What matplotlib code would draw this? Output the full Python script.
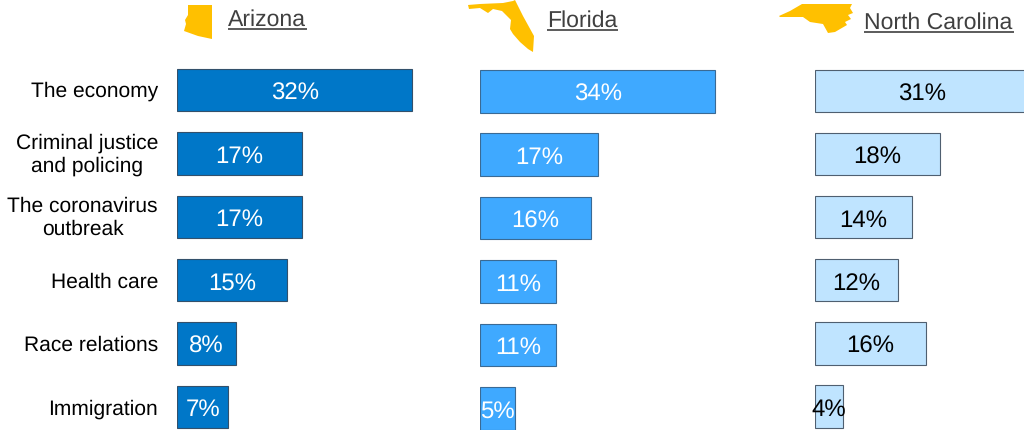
import matplotlib
matplotlib.use("Agg")
import matplotlib.pyplot as plt
from matplotlib.patches import Polygon

plt.rcParams["font.family"] = ["Liberation Sans", "DejaVu Sans"]
plt.rcParams["text.hinting"] = "no_hinting"
plt.rcParams["text.hinting_factor"] = 1

# ---------------- Data ----------------

categories = ["The economy", "Criminal justice\nand policing", "The coronavirus\noutbreak",
              "Health care", "Race relations", "Immigration"]
states = ["Arizona", "Florida", "North Carolina"]
arizona = [32, 17, 17, 15, 8, 7]
florida = [34, 17, 16, 11, 11, 5]
north_carolina = [31, 18, 14, 12, 16, 4]

W, H = 1024, 431
fig = plt.figure(figsize=(W / 100, H / 100), dpi=100)


def panel(left, px_per_pct, center, step, values, color, edge, text_color):
    # one axes per state, sized in pixels of the figure
    top = center - step / 2
    width = 40 * px_per_pct
    ax = fig.add_axes([left / W, 1 - (top + 6 * step) / H, width / W, 6 * step / H])
    ax.set_xlim(0, 40)
    ax.set_ylim(5.5, -0.5)
    ax.axis("off")
    bars = ax.barh(range(6), values, height=0.67, color=color, edgecolor=edge, linewidth=0.8)
    for bar, v in zip(bars, values):
        ax.annotate(f"{v}%", (v / 2, bar.get_y() + bar.get_height() / 2), xytext=(0, -1.5),
                    textcoords="offset points", ha="center", va="center",
                    fontsize=17, color=text_color, annotation_clip=False)
    return ax


panel(177, 7.35, 91, 63.4, arizona, "#0077c8", "#33506b", "white")
panel(480, 6.92, 92.3, 63.4, florida, "#3fa9ff", "#3a6a94", "white")
panel(815, 6.92, 92, 63.1, north_carolina, "#bfe4ff", "#4f5f70", "black")

# ---------------- Overlay in pixels: labels, headers, maps ----------------

ov = fig.add_axes([0, 0, 1, 1])
ov.set_xlim(0, W)
ov.set_ylim(H, 0)
ov.axis("off")

label_y = [91, 155, 218, 282, 345, 409]
for text, y in zip(categories, label_y):
    ov.text(158, y, text, ha="right", va="center", multialignment="center",
            fontsize=14.8, color="black", linespacing=1.2)

header_x = [228, 547, 864]
header_y = [20, 21, 23]
header_end = [307, 618, 1014]
underline_y = [30, 31, 32.5]
for name, x, y, x2, uy in zip(states, header_x, header_y, header_end, underline_y):
    ov.text(x, y, name, ha="left", va="center", fontsize=16.9, color="#404040")
    ov.plot([x, x2], [uy, uy], color="#404040", lw=1.2, solid_capstyle="butt")

# state outlines (pixels)
az_shape = [(188, 6), (212, 6), (212, 40), (198, 37), (184, 32), (186, 25), (185, 21), (188, 16)]
fl_shape = [(468, 6), (480, 5), (503, 4), (513, 2), (515, 1), (523, 17), (534, 37), (533, 53),
            (528, 50), (520, 43), (513, 35), (510, 30), (511, 21), (502, 12), (493, 10),
            (488, 14), (480, 9), (469, 10)]
nc_shape = [(779, 17), (790, 12), (802, 5), (852, 5), (850, 9), (853, 14), (848, 16), (851, 20),
            (845, 23), (847, 26), (835, 33), (828, 34), (823, 25), (810, 23), (803, 18), (780, 18)]
for shape in [az_shape, fl_shape, nc_shape]:
    ov.add_patch(Polygon(shape, closed=True, color="#ffc000", lw=0))

fig.savefig("out.png", dpi=100)
